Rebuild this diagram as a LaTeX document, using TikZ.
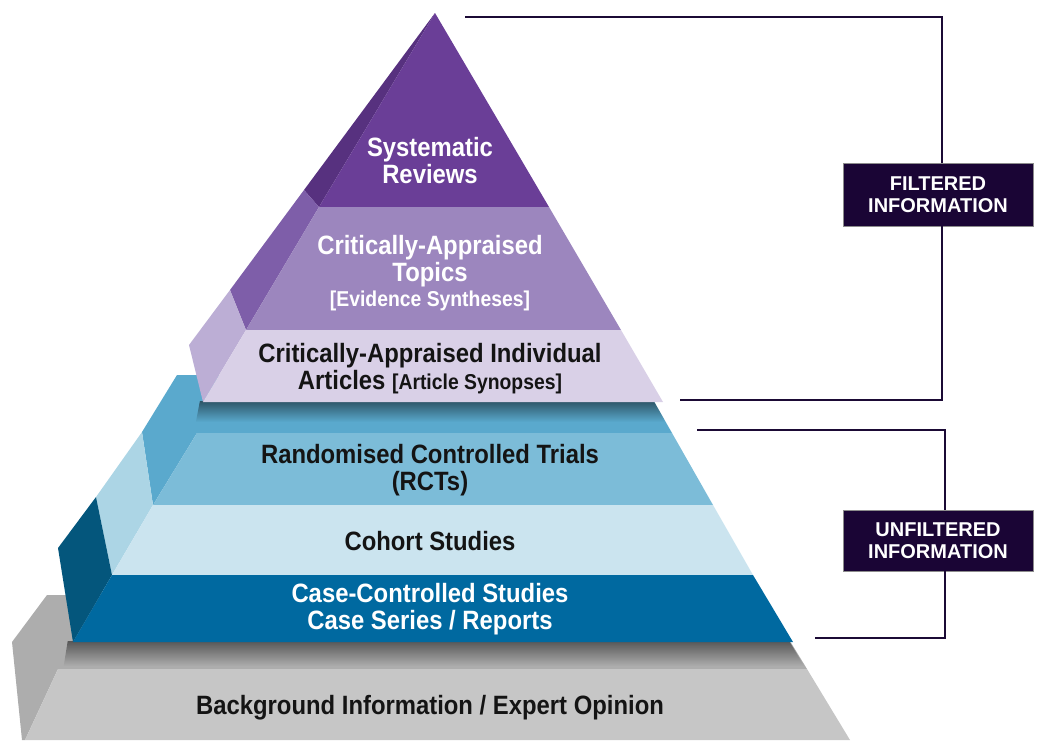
\documentclass[tikz,border=0pt]{standalone}
\usepackage{fontspec}
\setmainfont{Liberation Sans}
\newfontfamily\narrowfont[FakeStretch=0.9]{Liberation Sans}
\usetikzlibrary{fadings}

% level colours
\definecolor{srFront}{HTML}{6A3E97}
\definecolor{srSide}{HTML}{57317F}
\definecolor{catFront}{HTML}{9C86BE}
\definecolor{catSide}{HTML}{7E5EA9}
\definecolor{caiaFront}{HTML}{D9D0E7}
\definecolor{caiaSide}{HTML}{BCAED5}
\definecolor{blueTop}{HTML}{5AA9CD}
\definecolor{rctFront}{HTML}{7CBCD8}
\definecolor{cohFront}{HTML}{CBE4EF}
\definecolor{cohSide}{HTML}{ACD5E5}
\definecolor{ccsFront}{HTML}{0069A0}
\definecolor{ccsSide}{HTML}{04567C}
\definecolor{greyTop}{HTML}{ADADAD}
\definecolor{greyFront}{HTML}{C6C6C6}
\definecolor{bracketInk}{HTML}{1B0A35}
\definecolor{boxFill}{HTML}{1A0535}

% soft drop shadow: dark just under a slab, gone a little lower
\tikzfading[name=dropshadow, top color=transparent!10, middle color=transparent!80, bottom color=transparent!100]

\begin{document}
\begin{tikzpicture}[x=1pt,y=-1pt,
  lvl/.style={font=\narrowfont\bfseries\fontsize{26.5}{27}\selectfont,align=center,inner sep=0pt},
  lvlwhite/.style={lvl,text=white},
  lvlblack/.style={lvl,text=black!92},
  infobox/.style={fill=boxFill,draw=black!45,line width=0.6pt,text=white,
    font=\bfseries\fontsize{20}{22}\selectfont,align=center,
    minimum width=190pt,inner sep=0pt},
  bracket/.style={draw=bracketInk,line width=2.2pt},
  slabshadow/.style={fill=black,opacity=0.55,path fading=dropshadow}]
\useasboundingbox (0,0) rectangle (1041,740);

% ---- base: grey slab ----
\fill[greyTop] (47,595) -- (762,595) -- (807,669) -- (58,669) -- (25,740) -- (22,740) -- (12,642) -- cycle;
\fill[greyFront] (58,669) -- (807,669) -- (850,740) -- (25,740) -- cycle;
\path[slabshadow] (68,641) -- (790,641) -- (805,666) -- (64,666) -- cycle;

% ---- middle: blue frustum ----
\fill[blueTop] (177,375) -- (639,375) -- (672,433) -- (197,433) -- (153,505) -- (142,432) -- cycle;
\fill[cohSide] (142,432) -- (153,505) -- (112,575) -- (96,497) -- cycle;
\fill[ccsSide] (96,497) -- (112,575) -- (73,642) -- (58,548) -- cycle;
\fill[rctFront] (197,433) -- (672,433) -- (713,505) -- (153,505) -- cycle;
\fill[cohFront] (153,505) -- (713,505) -- (753,575) -- (112,575) -- cycle;
\fill[ccsFront] (112,575) -- (753,575) -- (793,642) -- (73,642) -- cycle;
\path[slabshadow] (200,401) -- (654,401) -- (666,422) -- (196,422) -- cycle;

% ---- top: purple pyramid ----
\fill[srSide] (435,13) -- (304,190) -- (319,207) -- cycle;
\fill[catSide] (304,190) -- (230,290) -- (246,330) -- (319,207) -- cycle;
\fill[caiaSide] (230,290) -- (189,345) -- (203,402) -- (246,330) -- cycle;
\fill[srFront] (435,13) -- (549,207) -- (319,207) -- cycle;
\fill[catFront] (319,207) -- (549,207) -- (621,330) -- (246,330) -- cycle;
\fill[caiaFront] (246,330) -- (621,330) -- (663,402) -- (203,402) -- cycle;

% ---- level labels ----
\node[lvlwhite] (sr) at (430,161) {Systematic\\Reviews};
\node[lvlwhite] (cat) at (430,273) {Critically-Appraised\\Topics\\[-2pt]{\fontsize{21.5}{24}\selectfont[Evidence Syntheses]}};
\node[lvlblack] (caia) at (430,369) {Critically-Appraised Individual\\Articles {\fontsize{21.5}{24}\selectfont[Article Synopses]}};
\node[lvlblack] (rct) at (430,470) {Randomised Controlled Trials\\(RCTs)};
\node[lvlblack] (coh) at (430,541) {Cohort Studies};
\node[lvlwhite] (ccs) at (430,609) {Case-Controlled Studies\\Case Series / Reports};
\node[lvlblack] (bg) at (430,708) {Background Information / Expert Opinion};

% ---- filtered / unfiltered brackets ----
\node[infobox,minimum height=63pt] (filt) at (938,194.5) {FILTERED\\INFORMATION};
\node[infobox,minimum height=61pt] (unf) at (938,540.5) {UNFILTERED\\INFORMATION};
\coordinate (ftop) at (465,17);
\coordinate (fbot) at (680,400);
\coordinate (utop) at (697,430);
\coordinate (ubot) at (815,638);
\draw[bracket] (ftop) -| ([xshift=4pt]filt.north);
\draw[bracket] ([xshift=4pt]filt.south) |- (fbot);
\draw[bracket] (utop) -| ([xshift=7pt]unf.north);
\draw[bracket] ([xshift=7pt]unf.south) |- (ubot);
\end{tikzpicture}
\end{document}
